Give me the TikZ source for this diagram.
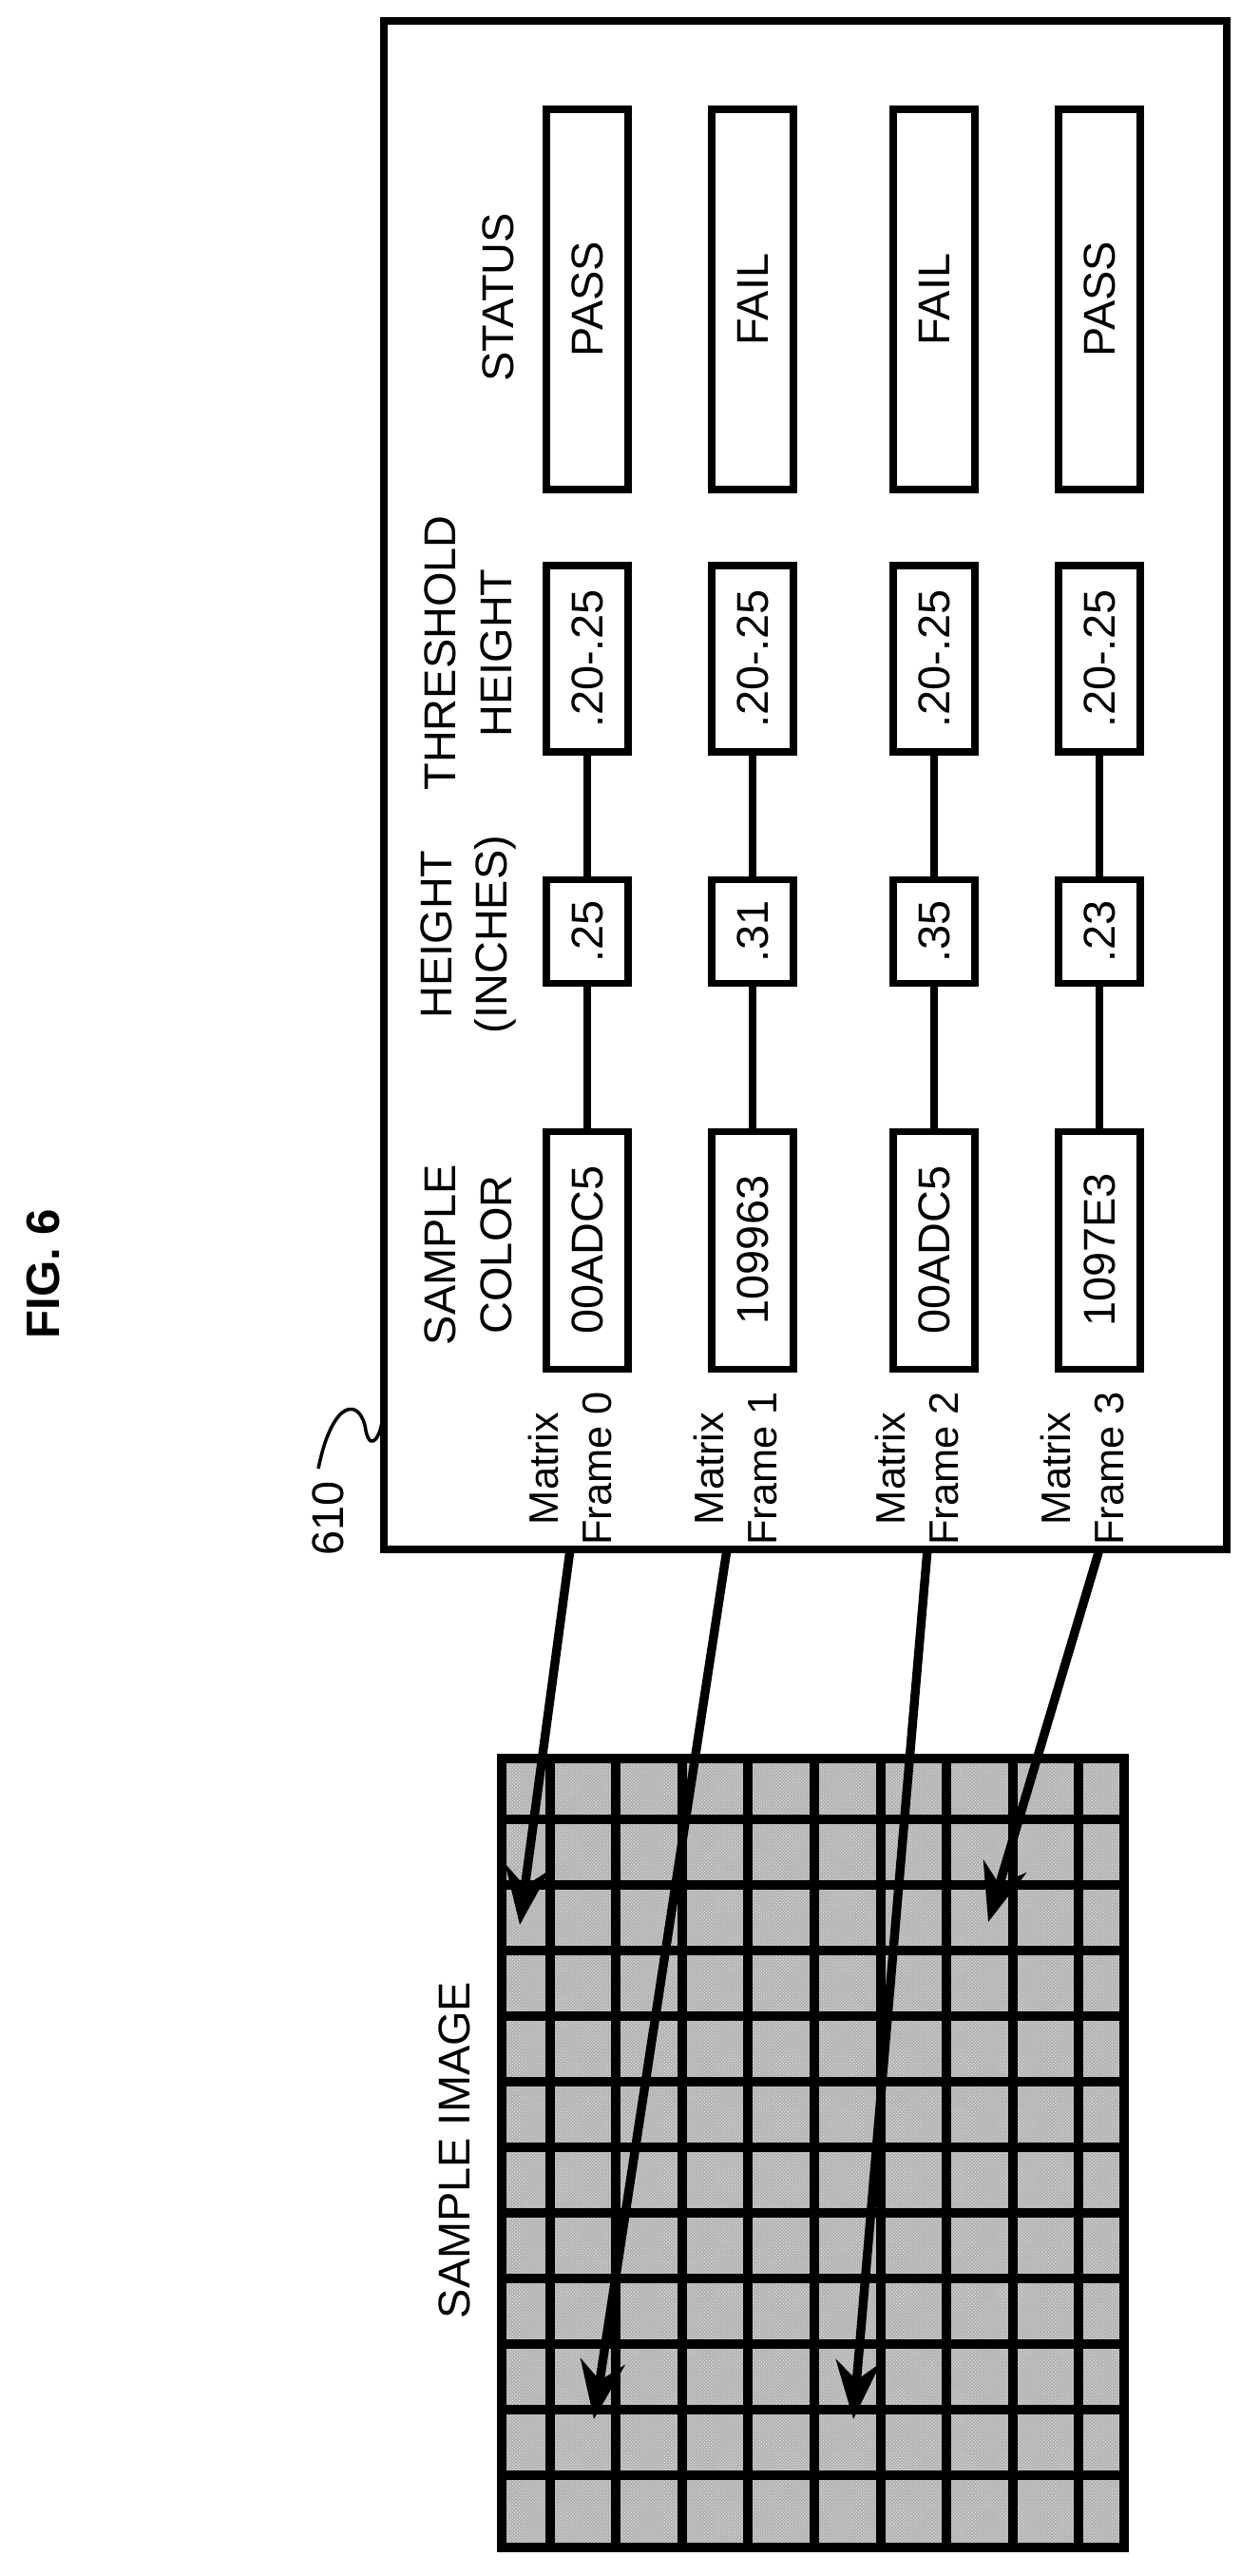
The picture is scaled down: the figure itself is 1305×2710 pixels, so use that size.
\documentclass[tikz,border=0pt]{standalone}
\usepackage{fontspec}
\setmainfont{Liberation Sans}
\usetikzlibrary{arrows.meta, patterns}
\tikzset{cell/.style={draw, line width=6pt, rotate=90, inner sep=0pt, minimum height=86*0.03cm, font=\fontsize{40}{46}\selectfont}}
\tikzset{head/.style={rotate=90, align=center, font=\fontsize{40}{50}\selectfont}}
\tikzset{link/.style={line width=8pt, -{Stealth[length=52pt, width=40pt]}}}
\begin{document}
\begin{tikzpicture}[x=0.03cm, y=-0.03cm]
        \useasboundingbox (0,0) rectangle (1305,2710);
        % Outer frame
        \draw[line width=7pt] (404,22) rectangle (1291,1630);
        \node[head, font=\fontsize{42}{50}\selectfont\bfseries] (fig) at (46,1340) {FIG. 6};
        \node[head] (ref) at (345,1597) {610};
        \draw[line width=3pt] (335,1545) .. controls (350,1470) and (380,1470) .. (385,1505) .. controls (390,1530) and (404,1510) .. (404,1475);
        % Headers
        \node[head] (hc) at (493,1320) {SAMPLE\\COLOR};
        \node[head] (hh) at (493,983) {HEIGHT\\(INCHES)};
        \node[head] (ht) at (493,687) {THRESHOLD\\HEIGHT};
        \node[head] (hs) at (524,313) {STATUS};
        % Rows
        \foreach \i/\xc/\col/\hgt/\st in {0/618/00ADC5/.25/PASS, 1/792/109963/.31/FAIL, 2/983/00ADC5/.35/FAIL, 3/1157/1097E3/.23/PASS} {
          \node[head, font=\fontsize{37}{48}\selectfont] (m\i) at (\xc-18,1545) {Matrix\\Frame \i};
          \node[cell, minimum width=250*0.03cm] (c\i) at (\xc,1315) {\col};
          \node[cell, minimum width=109*0.03cm] (h\i) at (\xc,980) {\hgt};
          \node[cell, minimum width=196*0.03cm] (t\i) at (\xc,693) {.20-.25};
          \node[cell, minimum width=400*0.03cm] (s\i) at (\xc,315) {\st};
          \draw[line width=6pt] (c\i) -- (h\i) -- (t\i);
        }
        % Sample image
        \node[head] (si) at (478,2262) {SAMPLE IMAGE};
        \fill[gray!60] (528,1850) rectangle (1183,2680);
        \fill[pattern=crosshatch dots, pattern color=gray!15] (528,1850) rectangle (1183,2680);
        \foreach \x in {579,648,718,787,857,927,996,1066,1135}
          \draw[line width=8.5pt] (\x,1850) -- (\x,2680);
        \foreach \k in {0,...,10}
          \draw[line width=8.5pt] (528,2604-69*\k) -- (1183,2604-69*\k);
        \draw[line width=9pt] (528,1850) rectangle (1183,2680);
        % Arrows into the image
        \coordinate (a0) at (600,1630);
        \coordinate (a1) at (765,1630);
        \coordinate (a2) at (976,1630);
        \coordinate (a3) at (1157,1630);
        \coordinate (e0) at (547,2025);
        \coordinate (e1) at (625,2545);
        \coordinate (e2) at (898,2545);
        \coordinate (e3) at (1040,2022);
        \foreach \i in {0,...,3}
          \draw[link] (a\i) -- (e\i);
\end{tikzpicture}
\end{document}
